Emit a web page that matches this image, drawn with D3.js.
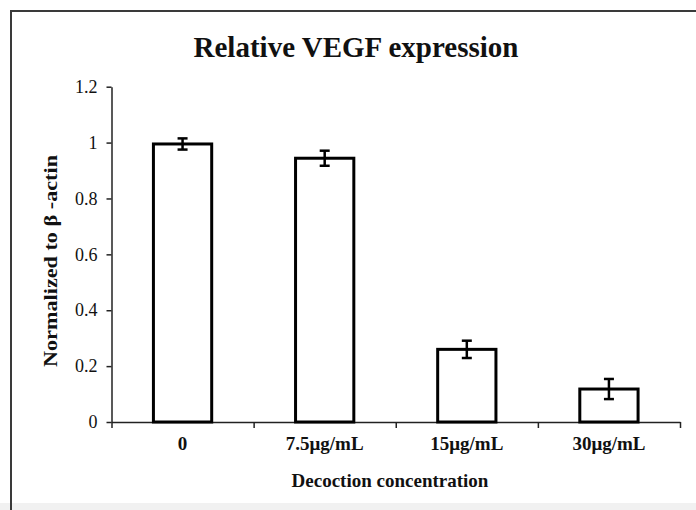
<!DOCTYPE html>
<html>
<head>
<meta charset="utf-8">
<script src="https://cdn.jsdelivr.net/npm/d3@7"></script>
<style>
  body { margin: 0; background: #fff; }
  svg text { font-family: "Liberation Serif", "Times New Roman", serif; fill: #111; }
</style>
</head>
<body>
<div id="chart"></div>
<script>
// Data
const categories = ["0", "7.5μg/mL", "15μg/mL", "30μg/mL"];
const values = [0.995, 0.944, 0.26, 0.118];
const errors = [0.02, 0.027, 0.031, 0.036];
const yTicks = [0, 0.2, 0.4, 0.6, 0.8, 1, 1.2];
const yTickLabels = ["0", "0.2", "0.4", "0.6", "0.8", "1", "1.2"];

const W = 696, H = 510;
const plot = { left: 111.5, right: 680, top: 86.7, bottom: 422 };

const svg = d3.select("#chart").append("svg")
    .attr("width", W)
    .attr("height", H);

// outer frame (left and top edges visible, bottom strip grey)
svg.append("rect")
    .attr("x", 0).attr("y", 503).attr("width", W).attr("height", 7)
    .attr("fill", "#f1f1f1");
svg.append("rect")
    .attr("x", 11).attr("y", 11).attr("width", 720).attr("height", 520)
    .attr("fill", "none")
    .attr("stroke", "#3a3a3a")
    .attr("stroke-width", 2);

// scales
const x = d3.scaleBand()
    .domain(categories)
    .range([plot.left, plot.right])
    .padding(0);

const xEdges = d3.scaleLinear()
    .domain([0, categories.length])
    .range([plot.left, plot.right]);

const y = d3.scaleLinear()
    .domain([0, 1.2])
    .range([plot.bottom, plot.top]);

const barW = x.bandwidth() * 0.41;

// y axis
const yAxis = svg.append("g")
    .attr("transform", `translate(${plot.left},0)`)
    .call(d3.axisLeft(y)
        .tickValues(yTicks)
        .tickFormat((d, i) => yTickLabels[i])
        .tickSize(5)
        .tickSizeOuter(0)
        .tickPadding(9));
yAxis.select(".domain").attr("stroke", "#222").attr("stroke-width", 1.5);
yAxis.selectAll(".tick line").attr("stroke", "#222").attr("stroke-width", 1.5);
yAxis.selectAll(".tick text")
    .style("font-size", "18px")
    .style("font-family", "Liberation Serif, serif")
    .attr("fill", "#222");

// x axis: tick marks at category boundaries
const xAxis = svg.append("g")
    .attr("transform", `translate(0,${plot.bottom})`)
    .call(d3.axisBottom(xEdges)
        .ticks(categories.length)
        .tickFormat("")
        .tickSize(6)
        .tickSizeOuter(0));
xAxis.select(".domain").attr("stroke", "#222").attr("stroke-width", 1.5);
xAxis.selectAll(".tick line").attr("stroke", "#222").attr("stroke-width", 1.5);

// category labels
svg.append("g")
    .selectAll("text")
    .data(categories)
    .join("text")
    .attr("x", d => x(d) + x.bandwidth() / 2)
    .attr("y", 450)
    .attr("text-anchor", "middle")
    .style("font-size", "19px")
    .style("font-weight", "bold")
    .attr("fill", "#222")
    .text(d => d);

// bars
svg.append("g")
    .selectAll("rect")
    .data(values)
    .join("rect")
    .attr("x", (d, i) => x(categories[i]) + (x.bandwidth() - barW) / 2)
    .attr("y", d => y(d))
    .attr("width", barW)
    .attr("height", d => y(0) - y(d))
    .attr("fill", "#fff")
    .attr("stroke", "#000")
    .attr("stroke-width", 3);

// error bars
const eb = svg.append("g").attr("stroke", "#000").attr("stroke-width", 2.5);
values.forEach((v, i) => {
    const cx = x(categories[i]) + x.bandwidth() / 2;
    const hi = y(v + errors[i]), lo = y(v - errors[i]);
    eb.append("line").attr("x1", cx).attr("x2", cx).attr("y1", hi).attr("y2", lo);
    eb.append("line").attr("x1", cx - 5).attr("x2", cx + 5).attr("y1", hi).attr("y2", hi);
    eb.append("line").attr("x1", cx - 5).attr("x2", cx + 5).attr("y1", lo).attr("y2", lo);
});

// titles
svg.append("text")
    .attr("x", 356)
    .attr("y", 57)
    .attr("text-anchor", "middle")
    .style("font-size", "29px")
    .style("font-weight", "bold")
    .text("Relative VEGF expression");

svg.append("text")
    .attr("x", 390)
    .attr("y", 487)
    .attr("text-anchor", "middle")
    .style("font-size", "19px")
    .style("font-weight", "bold")
    .text("Decoction concentration");

svg.append("text")
    .attr("transform", "translate(57,261) rotate(-90)")
    .attr("text-anchor", "middle")
    .attr("textLength", 212)
    .attr("lengthAdjust", "spacingAndGlyphs")
    .style("font-size", "19px")
    .style("font-weight", "bold")
    .text("Normalized to β -actin");
</script>
</body>
</html>
